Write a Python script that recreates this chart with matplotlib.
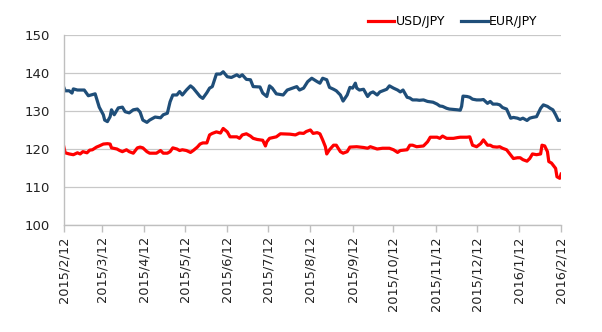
import datetime as dt
import matplotlib
matplotlib.use("Agg")
import matplotlib.pyplot as plt

# Data
START = dt.date(2015, 2, 12)

usd_days = [0, 1, 4, 7, 10, 12, 14, 17, 19, 21, 24, 26, 29, 32, 34, 35, 39, 41, 43, 46,
            48, 51, 54, 56, 58, 61, 63, 68, 71, 73, 76, 78, 80, 83, 85, 87, 90, 93, 95, 98,
            100, 102, 105, 107, 109, 112, 115, 117, 120, 122, 124, 127, 129, 131, 134, 137,
            139, 142, 146, 148, 149, 151, 156, 159, 166, 170, 173, 176, 178, 181, 183, 186,
            188, 190, 192, 193, 195, 198, 200, 203, 205, 208, 210, 215, 220, 223, 225, 230,
            234, 239, 242, 245, 247, 252, 254, 256, 259, 264, 267, 269, 274, 276, 278, 281,
            286, 289, 291, 296, 298, 300, 303, 306, 308, 311, 313, 315, 318, 320, 322, 325,
            328, 330, 333, 335, 337, 340, 342, 344, 347, 350, 351, 353, 355, 356, 358, 361,
            362, 364, 365]
usd_jpy = [120.6, 119.0, 118.7, 118.5, 119.0, 118.7, 119.3, 119.0, 119.7, 119.8, 120.5, 120.8,
           121.3, 121.4, 121.3, 120.3, 120.0, 119.6, 119.3, 119.8, 119.3, 118.9, 120.3, 120.5,
           120.3, 119.3, 118.9, 118.9, 119.6, 118.9, 118.9, 119.3, 120.3, 120.0, 119.6, 119.8,
           119.6, 119.1, 119.6, 120.5, 121.3, 121.6, 121.6, 123.7, 124.1, 124.5, 124.2, 125.4,
           124.5, 123.2, 123.2, 123.2, 122.8, 123.7, 124.0, 123.4, 122.8, 122.5, 122.3, 120.8,
           121.9, 122.8, 123.2, 124.0, 123.9, 123.7, 124.2, 124.1, 124.6, 125.0, 124.1, 124.3,
           124.0, 122.4, 120.6, 118.7, 119.8, 121.0, 121.0, 119.3, 118.9, 119.3, 120.5, 120.6,
           120.4, 120.2, 120.6, 120.0, 120.2, 120.2, 119.8, 119.1, 119.6, 119.8, 121.0, 121.0,
           120.6, 120.8, 121.9, 123.1, 123.1, 122.8, 123.4, 122.8, 122.8, 123.0, 123.1, 123.1,
           123.2, 121.0, 120.6, 121.4, 122.4, 121.0, 121.0, 120.6, 120.5, 120.6, 120.2, 119.8,
           118.4, 117.5, 117.7, 117.7, 117.2, 116.8, 117.5, 118.7, 118.5, 118.7, 121.0, 120.8,
           119.3, 116.7, 116.3, 114.9, 112.7, 112.3, 113.4]

eur_days = [0, 1, 4, 6, 7, 10, 15, 18, 23, 26, 29, 30, 32, 34, 35, 37, 40, 43, 45, 48,
            51, 54, 56, 58, 61, 63, 67, 71, 73, 76, 78, 80, 83, 85, 87, 90, 93, 95, 98, 100,
            102, 105, 107, 109, 112, 115, 117, 120, 123, 127, 129, 131, 134, 137, 139, 144,
            146, 149, 151, 153, 156, 161, 164, 168, 171, 173, 176, 179, 182, 186, 188, 190,
            193, 195, 198, 200, 203, 205, 208, 210, 212, 214, 215, 217, 220, 223, 225, 227,
            230, 232, 237, 239, 242, 245, 247, 249, 252, 254, 256, 259, 261, 264, 267, 271,
            274, 276, 278, 281, 283, 289, 291, 292, 293, 296, 298, 300, 303, 306, 308, 311,
            313, 315, 318, 320, 322, 325, 328, 330, 333, 335, 337, 340, 342, 344, 347, 350,
            352, 355, 357, 359, 361, 363, 365]
eur_jpy = [136.2, 135.3, 135.3, 134.7, 135.8, 135.5, 135.5, 134.0, 134.5, 131.0, 129.0, 127.6,
           127.2, 128.5, 130.3, 129.0, 130.8, 131.0, 129.8, 129.5, 130.3, 130.5, 129.7, 127.6,
           127.0, 127.6, 128.4, 128.2, 129.0, 129.4, 132.4, 134.2, 134.2, 135.1, 134.2, 135.5,
           136.6, 136.0, 134.7, 133.8, 133.3, 134.8, 136.0, 136.4, 139.7, 139.7, 140.3, 139.0,
           138.8, 139.5, 139.0, 139.5, 138.3, 138.2, 136.4, 136.3, 134.7, 133.8, 136.6, 136.0,
           134.5, 134.2, 135.5, 136.0, 136.4, 135.5, 136.0, 137.7, 138.6, 137.7, 137.3, 138.6,
           138.2, 136.2, 135.7, 135.3, 134.2, 132.6, 134.2, 136.2, 136.0, 137.3, 136.0, 135.5,
           135.7, 133.8, 134.7, 135.0, 134.2, 135.0, 135.7, 136.6, 136.0, 135.5, 135.0, 135.5,
           133.6, 133.4, 132.9, 132.9, 132.8, 132.9, 132.5, 132.3, 131.8, 131.3, 131.2, 130.7,
           130.5, 130.3, 130.2, 131.2, 133.9, 133.8, 133.6, 133.1, 132.9, 132.9, 133.0, 132.0,
           132.5, 131.8, 131.8, 131.6, 130.9, 130.5, 128.1, 128.3, 128.1, 127.8, 128.1, 127.5,
           128.1, 128.3, 128.5, 130.7, 131.6, 131.2, 130.7, 130.3, 129.0, 127.5, 127.6]

tick_labels = ["2015/2/12", "2015/3/12", "2015/4/12", "2015/5/12", "2015/6/12", "2015/7/12",
               "2015/8/12", "2015/9/12", "2015/10/12", "2015/11/12", "2015/12/12",
               "2016/1/12", "2016/2/12"]


def to_dates(days):
    return [START + dt.timedelta(days=d) for d in days]


def main():
    fig = plt.figure(figsize=(6.02, 3.32), dpi=100)
    ax = fig.add_axes([0.106, 0.322, 0.826, 0.573])

    ax.plot(to_dates(usd_days), usd_jpy, color="#ff0000", linewidth=2.3, label="USD/JPY")
    ax.plot(to_dates(eur_days), eur_jpy, color="#1f4e79", linewidth=2.3, label="EUR/JPY")

    ticks = [dt.datetime.strptime(t, "%Y/%m/%d").date() for t in tick_labels]
    ax.set_xticks(ticks)
    ax.set_xticklabels(tick_labels, rotation=90, fontsize=9.3, color="#222222")
    ax.set_xlim(ticks[0], ticks[-1])

    ax.set_ylim(100, 150)
    ax.set_yticks(range(100, 151, 10))
    ax.tick_params(axis="y", length=0, labelsize=9.5, labelcolor="#222222", pad=10)
    ax.tick_params(axis="x", length=5, color="#bfbfbf", width=1, pad=3)
    ax.yaxis.grid(True, color="#c8c8c8", linewidth=0.9)
    ax.set_axisbelow(True)

    for side in ["top", "right"]:
        ax.spines[side].set_visible(False)
    for side in ["left", "bottom"]:
        ax.spines[side].set_color("#bfbfbf")
        ax.spines[side].set_linewidth(1)

    fig.legend(loc="center", bbox_to_anchor=(0.752, 0.935), ncol=2, frameon=False,
               fontsize=9, handlelength=2.1, handletextpad=0.1, columnspacing=1.3)

    fig.savefig("out.png", dpi=100)


if __name__ == "__main__":
    main()
